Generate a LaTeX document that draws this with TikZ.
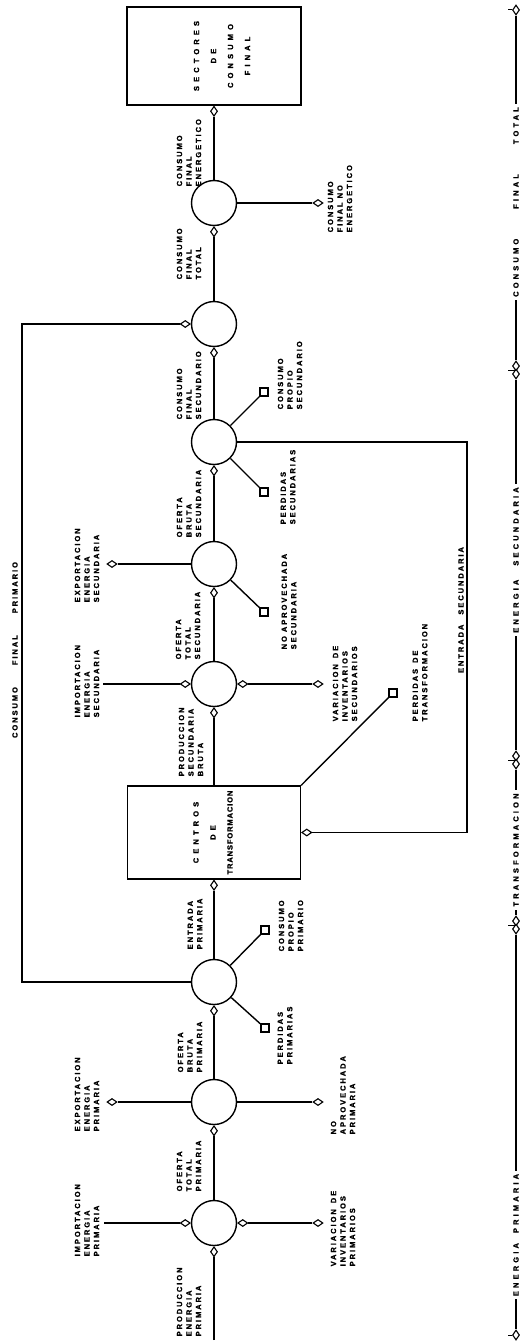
\documentclass[tikz,border=0pt]{standalone}
\usepackage{fontspec}
\setmainfont{Liberation Sans}
\newfontfamily\lblfont[LetterSpace=26,BoldFeatures={FakeBold=1.2}]{Liberation Sans}
\newfontfamily\wlblfont[LetterSpace=55,BoldFeatures={FakeBold=1.2}]{Liberation Sans}
\newfontfamily\albfont[LetterSpace=42,BoldFeatures={FakeBold=1.2}]{Liberation Sans}
\newfontfamily\nlblfont[LetterSpace=12,BoldFeatures={FakeBold=1.2}]{Liberation Sans}
\usetikzlibrary{shapes.geometric}
\tikzset{
 hub/.style={circle,draw,minimum size=45pt,inner sep=0pt},
 blk/.style={rectangle,draw},
 dv/.style={diamond,draw,fill=white,inner sep=0pt,minimum width=7pt,minimum height=10pt,line width=1.1pt},
 dh/.style={diamond,draw,fill=white,inner sep=0pt,minimum width=10pt,minimum height=7pt,line width=1.1pt},
 sq/.style={rectangle,draw,fill=white,inner sep=0pt,minimum size=8pt,line width=1.1pt},
 lbl/.style={rotate=90,anchor=west,align=left,inner sep=0pt,font=\lblfont\bfseries\fontsize{7.5}{9.5}\selectfont},
 clbl/.style={rotate=90,align=center,inner sep=0pt,font=\wlblfont\bfseries\fontsize{7.5}{17}\selectfont},
 axl/.style={rotate=90,fill=white,inner xsep=3pt,inner ysep=1pt,font=\albfont\bfseries\fontsize{7.5}{9}\selectfont},
 rl/.style={rotate=90,inner sep=0pt,font=\lblfont\bfseries\fontsize{7.5}{9}\selectfont}
}
\begin{document}
\begin{tikzpicture}[x=1pt,y=-1pt,line width=1.4pt]
\useasboundingbox (0,0) rectangle (522,1343);
% hubs and boxes
\node[hub] (c1) at (214,1223) {};
\node[hub] (c2) at (214,1102) {};
\node[hub] (c3) at (214,982) {};
\node[blk,minimum width=173pt,minimum height=93pt] (bt) at (214,832.5) {};
\node[hub] (c4) at (214,684) {};
\node[hub] (c5) at (214,564) {};
\node[hub] (c6) at (214,442) {};
\node[hub] (c7) at (214,324) {};
\node[hub] (c8) at (214,203) {};
\node[blk,minimum width=174pt,minimum height=98pt] (bs) at (214,56) {};
% spine diamonds
\node[dv,anchor=north] (d1) at (c1.south) {};
\node[dv,anchor=north] (d2) at (c2.south) {};
\node[dv,anchor=north] (d3) at (c3.south) {};
\node[dv,anchor=north] (dt) at (bt.south) {};
\node[dv,anchor=north] (d4) at (c4.south) {};
\node[dv,anchor=north] (d5) at (c5.south) {};
\node[dv,anchor=north] (d6) at (c6.south) {};
\node[dv,anchor=north] (d7) at (c7.south) {};
\node[dv,anchor=north] (d8) at (c8.south) {};
\node[dv,anchor=north] (ds) at (bs.south) {};
\coordinate (sp0) at (214,1340);
\draw (sp0) -- (d1);
\draw (c1) -- (d2);
\draw (c2) -- (d3);
\draw (c3) -- (dt);
\draw (bt) -- (d4);
\draw (c4) -- (d5);
\draw (c5) -- (d6);
\draw (c6) -- (d7);
\draw (c7) -- (d8);
\draw (c8) -- (ds);
% C1
\node[dh,anchor=east] (d1l) at (c1.west) {};
\node[dh,anchor=west] (d1r) at (c1.east) {};
\node[dh] (e1r) at (318,1223) {};
\coordinate (i1) at (104,1223);
\draw (i1) -- (d1l);
\draw (d1r) -- (e1r);
% C2
\node[dh] (e2l) at (112,1102) {};
\node[dh] (e2r) at (318,1102) {};
\draw (c2) -- (e2l);
\draw (c2) -- (e2r);
% C3 and primary final consumption loop
\node[dh,anchor=east] (d7l) at (c7.west) {};
\coordinate (la) at (22,982);
\coordinate (lb) at (22,324);
\draw (c3) -- (la) -- (lb) -- (d7l);
\node[sq] (s3a) at (265,930) {};
\node[sq] (s3b) at (265,1028) {};
\draw (c3) -- (s3a);
\draw (c3) -- (s3b);
% transformation box
\node[dh,anchor=west] (dtr) at (bt.east) {};
\coordinate (ea) at (467,442);
\coordinate (eb) at (467,832.5);
\draw (c6) -- (ea) -- (eb) -- (dtr);
\node[sq] (sqt) at (393,693) {};
\draw (bt.north east) -- (sqt);
% C4
\node[dh,anchor=east] (d4l) at (c4.west) {};
\node[dh,anchor=west] (d4r) at (c4.east) {};
\node[dh] (e4r) at (318,684) {};
\coordinate (i4) at (103,684);
\draw (i4) -- (d4l);
\draw (d4r) -- (e4r);
% C5
\node[dh] (e5l) at (112,564) {};
\draw (c5) -- (e5l);
\node[sq] (s5) at (264,612) {};
\draw (c5) -- (s5);
% C6
\node[sq] (s6a) at (264,392) {};
\node[sq] (s6b) at (264,492) {};
\draw (c6) -- (s6a);
\draw (c6) -- (s6b);
% C8
\node[dh] (e8r) at (318,203) {};
\draw (c8) -- (e8r);
% labels
\node[lbl] (tPEP) at (189,1337) {PRODUCCION\\ENERGIA\\PRIMARIA};
\node[lbl] (tIEP) at (87,1257) {IMPORTACION\\ENERGIA\\PRIMARIA};
\node[lbl] (tOTP) at (189,1192) {OFERTA\\TOTAL\\PRIMARIA};
\node[lbl] (tVIP) at (343,1267) {VARIACION\hspace{6pt}DE\\INVENTARIOS\\PRIMARIOS};
\node[lbl] (tEEP) at (87,1132) {EXPORTACION\\ENERGIA\\PRIMARIA};
\node[lbl] (tNAP) at (343,1135) {NO\\APROVECHADA\\PRIMARIA};
\node[lbl] (tOBP) at (190,1073) {OFERTA\\BRUTA\\PRIMARIA};
\node[lbl] (tPP) at (285,1065) {PERDIDAS\\PRIMARIAS};
\node[lbl] (tCPP) at (291,952) {CONSUMO\\PROPIO\\PRIMARIO};
\node[lbl] (tEP) at (195,950) {ENTRADA\\PRIMARIA};
\node[clbl] (tCT) at (213,832.5) {CENTROS\\DE\\{\nlblfont\bfseries TRANSFORMACION}};
\node[lbl] (tPSB) at (191,777) {PRODUCCION\\SECUNDARIA\\BRUTA};
\node[lbl] (tIES) at (87,718) {IMPORTACION\\ENERGIA\\SECUNDARIA};
\node[lbl] (tVIS) at (345,722) {VARIACION\hspace{6pt}DE\\INVENTARIOS\\SECUNDARIOS};
\node[lbl] (tPT) at (420,722) {PERDIDAS\hspace{6pt}DE\\TRANSFORMACION};
\node[lbl] (tOTS) at (188,660) {OFERTA\\TOTAL\\SECUNDARIA};
\node[lbl] (tEES) at (87,603) {EXPORTACION\\ENERGIA\\SECUNDARIA};
\node[lbl] (tNAS) at (289,650) {NO APROVECHADA\\SECUNDARIA};
\node[lbl] (tOBS) at (189,538) {OFERTA\\BRUTA\\SECUNDARIA};
\node[lbl] (tPS) at (288,525) {PERDIDAS\\SECUNDARIAS};
\node[lbl] (tCPS) at (290,410) {CONSUMO\\PROPIO\\SECUNDARIO};
\node[lbl] (tCFS) at (189,420) {CONSUMO\\FINAL\\SECUNDARIO};
\node[lbl] (tCFT) at (189,280) {CONSUMO\\FINAL\\TOTAL};
\node[lbl] (tCFNE) at (340,233) {CONSUMO\\FINAL NO\\ENERGETICO};
\node[lbl] (tCFE) at (189,187) {CONSUMO\\FINAL\\ENERGETICO};
\node[clbl] (tSCF) at (222,56) {SECTORES\\DE\\CONSUMO\\FINAL};
\node[rl] (tCFP) at (15,650) {CONSUMO\hspace{22pt}FINAL\hspace{22pt}PRIMARIO};
\node[rl] (tES) at (461,610) {ENTRADA\hspace{10pt}SECUNDARIA};
% right axis
\node[dv] (a0) at (516,10) {};
\node[dv] (a1t) at (516,366) {};
\node[dv] (a1b) at (516,374) {};
\node[dv] (a2t) at (516,756) {};
\node[dv] (a2b) at (516,764) {};
\node[dv] (a3t) at (516,921) {};
\node[dv] (a3b) at (516,929) {};
\node[dv] (a4) at (516,1335) {};
\draw (a0) -- (a1t);
\draw (a1b) -- (a2t);
\draw (a2b) -- (a3t);
\draw (a3b) -- (a4);
\coordinate (k0) at (508,10);
\coordinate (k1) at (508,370);
\coordinate (k2) at (508,760);
\coordinate (k3) at (508,925);
\coordinate (k4) at (508,1335);
\draw[line width=1pt] (k0) -- (a0.west);
\draw[line width=1pt] (k1) -- (516,370);
\draw[line width=1pt] (k2) -- (516,760);
\draw[line width=1pt] (k3) -- (516,925);
\draw[line width=1pt] (k4) -- (a4.west);
\node[axl] (x1) at (516,202) {CONSUMO\hspace{30pt}FINAL\hspace{30pt}TOTAL};
\node[axl] (x2) at (516,560) {ENERGIA\hspace{14pt}SECUNDARIA};
\node[axl] (x3) at (516,850) {TRANSFORMACION};
\node[axl] (x4) at (516,1235) {ENERGIA\hspace{10pt}PRIMARIA};
\end{tikzpicture}
\end{document}
